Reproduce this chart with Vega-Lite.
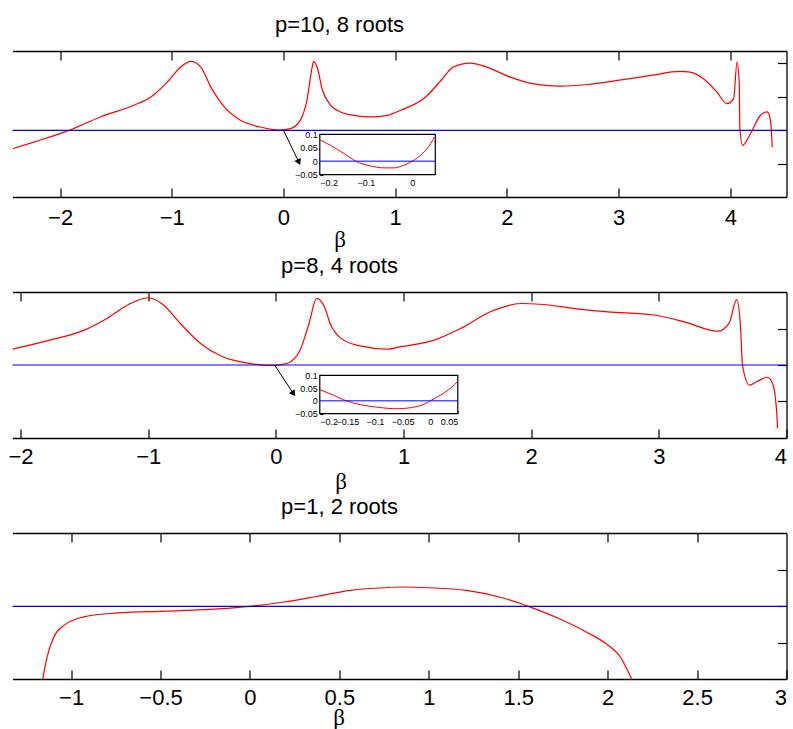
{
  "$schema": "https://vega.github.io/schema/vega-lite/v6.json",
  "background": "white",
  "padding": {"left": 7.5, "top": 14, "right": 5, "bottom": 5},
  "bounds": "flush",
  "spacing": 95,
  "config": {
    "view": {"stroke": null},
    "axis": {"grid": false, "minExtent": 0, "labelOverlap": false, "domainColor": "black", "domainWidth": 1.3, "tickColor": "black", "tickWidth": 1.2, "labelColor": "black", "labelFont": "Liberation Sans", "labelFontSize": 22, "titleColor": "black"},
    "title": {"font": "Liberation Sans", "fontSize": 22, "fontWeight": "normal", "color": "black"}
  },
  "datasets": {
    "p10": [
      {"b": -2.426, "v": -0.55}, {"b": -2.235, "v": -0.35}, {"b": -1.92, "v": 0.0}, {"b": -1.64, "v": 0.40},
      {"b": -1.34, "v": 0.75}, {"b": -1.19, "v": 0.99}, {"b": -1.04, "v": 1.44}, {"b": -0.92, "v": 1.89},
      {"b": -0.83, "v": 2.06}, {"b": -0.74, "v": 1.89}, {"b": -0.65, "v": 1.29}, {"b": -0.53, "v": 0.70},
      {"b": -0.385, "v": 0.30}, {"b": -0.21, "v": 0.10}, {"b": -0.03, "v": 0.01}, {"b": 0.06, "v": 0.05},
      {"b": 0.15, "v": 0.30}, {"b": 0.21, "v": 0.9}, {"b": 0.257, "v": 1.89}, {"b": 0.27, "v": 2.06},
      {"b": 0.30, "v": 1.89}, {"b": 0.35, "v": 1.19}, {"b": 0.41, "v": 0.80}, {"b": 0.51, "v": 0.55},
      {"b": 0.63, "v": 0.45}, {"b": 0.78, "v": 0.40}, {"b": 0.93, "v": 0.45}, {"b": 1.05, "v": 0.60},
      {"b": 1.27, "v": 0.99}, {"b": 1.41, "v": 1.49}, {"b": 1.52, "v": 1.89}, {"b": 1.67, "v": 2.01},
      {"b": 1.82, "v": 1.89}, {"b": 2.03, "v": 1.59}, {"b": 2.24, "v": 1.39}, {"b": 2.48, "v": 1.32},
      {"b": 2.72, "v": 1.37}, {"b": 2.99, "v": 1.49}, {"b": 3.29, "v": 1.64}, {"b": 3.55, "v": 1.76},
      {"b": 3.64, "v": 1.74}, {"b": 3.76, "v": 1.54}, {"b": 3.88, "v": 1.14}, {"b": 3.97, "v": 0.80},
      {"b": 4.03, "v": 0.95}, {"b": 4.06, "v": 2.04}, {"b": 4.08, "v": 1.39}, {"b": 4.085, "v": 0.10},
      {"b": 4.11, "v": -0.45}, {"b": 4.18, "v": -0.10}, {"b": 4.27, "v": 0.45}, {"b": 4.33, "v": 0.55},
      {"b": 4.36, "v": 0.30}, {"b": 4.375, "v": -0.50}
    ],
    "p8": [
      {"b": -2.063, "v": 0.44}, {"b": -1.77, "v": 0.69}, {"b": -1.50, "v": 0.97}, {"b": -1.32, "v": 1.30},
      {"b": -1.16, "v": 1.67}, {"b": -1.0, "v": 1.87}, {"b": -0.88, "v": 1.67}, {"b": -0.75, "v": 1.16},
      {"b": -0.59, "v": 0.60}, {"b": -0.43, "v": 0.25}, {"b": -0.22, "v": 0.05}, {"b": -0.02, "v": -0.01},
      {"b": 0.09, "v": 0.05}, {"b": 0.19, "v": 0.42}, {"b": 0.26, "v": 1.16}, {"b": 0.32, "v": 1.85},
      {"b": 0.38, "v": 1.62}, {"b": 0.43, "v": 1.11}, {"b": 0.51, "v": 0.74}, {"b": 0.66, "v": 0.53},
      {"b": 0.87, "v": 0.44}, {"b": 0.98, "v": 0.51}, {"b": 1.24, "v": 0.69}, {"b": 1.45, "v": 1.02},
      {"b": 1.68, "v": 1.48}, {"b": 1.92, "v": 1.71}, {"b": 2.07, "v": 1.69}, {"b": 2.34, "v": 1.57},
      {"b": 2.60, "v": 1.48}, {"b": 2.96, "v": 1.39}, {"b": 3.20, "v": 1.20}, {"b": 3.46, "v": 0.94},
      {"b": 3.55, "v": 1.16}, {"b": 3.61, "v": 1.82}, {"b": 3.64, "v": 1.06}, {"b": 3.655, "v": 0.0},
      {"b": 3.71, "v": -0.56}, {"b": 3.77, "v": -0.46}, {"b": 3.85, "v": -0.34}, {"b": 3.89, "v": -0.51},
      {"b": 3.92, "v": -1.16}, {"b": 3.93, "v": -1.76}
    ],
    "p1": [
      {"b": -1.159, "v": -1.99}, {"b": -1.134, "v": -1.38}, {"b": -1.097, "v": -0.84}, {"b": -1.04, "v": -0.52},
      {"b": -0.93, "v": -0.29}, {"b": -0.74, "v": -0.18}, {"b": -0.46, "v": -0.13}, {"b": -0.18, "v": -0.07},
      {"b": 0.0, "v": 0.0}, {"b": 0.19, "v": 0.12}, {"b": 0.37, "v": 0.27}, {"b": 0.56, "v": 0.44},
      {"b": 0.75, "v": 0.51}, {"b": 0.84, "v": 0.53}, {"b": 1.0, "v": 0.51}, {"b": 1.21, "v": 0.44},
      {"b": 1.40, "v": 0.25}, {"b": 1.556, "v": 0.0}, {"b": 1.73, "v": -0.34}, {"b": 1.88, "v": -0.70},
      {"b": 1.99, "v": -1.02}, {"b": 2.07, "v": -1.38}, {"b": 2.134, "v": -1.99}
    ],
    "in10": [
      {"b": -0.2, "v": 0.080}, {"b": -0.177, "v": 0.059}, {"b": -0.147, "v": 0.028}, {"b": -0.122, "v": 0.0},
      {"b": -0.090, "v": -0.018}, {"b": -0.061, "v": -0.025}, {"b": -0.040, "v": -0.025}, {"b": -0.018, "v": -0.015},
      {"b": 0.0, "v": 0.0}, {"b": 0.022, "v": 0.028}, {"b": 0.040, "v": 0.065}, {"b": 0.048, "v": 0.090}
    ],
    "in8": [
      {"b": -0.2, "v": 0.044}, {"b": -0.175, "v": 0.022}, {"b": -0.152, "v": 0.0}, {"b": -0.126, "v": -0.015},
      {"b": -0.096, "v": -0.025}, {"b": -0.060, "v": -0.031}, {"b": -0.036, "v": -0.027}, {"b": -0.013, "v": -0.015},
      {"b": 0.0, "v": 0.0}, {"b": 0.023, "v": 0.028}, {"b": 0.038, "v": 0.052}, {"b": 0.05, "v": 0.076}
    ],
    "a10": [{"b": 0.0, "v": 0.0, "b2": 0.138, "v2": -0.951}],
    "a8": [{"b": -0.01, "v": 0.0, "b2": 0.138, "v2": -0.80}],
    "zero": [{"v": 0}],
    "box": [{"b": -0.2, "b2": 0.05, "v": -0.05, "v2": 0.1}],
    "izero": [{"b": -0.2, "b2": 0.05, "v": 0}]
  },
  "vconcat": [
    {
      "width": 774, "height": 146,
      "title": {"text": "p=10, 8 roots", "frame": "group", "anchor": "middle", "dx": -60, "offset": -4, "baseline": "alphabetic"},
      "layer": [
        {"layer": [
          {"data": {"name": "p10"}, "mark": {"type": "line", "color": "#ff0000", "strokeWidth": 1.2, "interpolate": "monotone", "clip": true},
           "encoding": {
             "x": {"field": "b", "type": "quantitative", "scale": {"domain": [-2.426, 4.503], "nice": false, "zero": false},
                   "axis": {"orient": "bottom", "values": [-2, -1, 0, 1, 2, 3, 4], "format": "~g", "tickSize": -9, "labelPadding": 19, "title": "β", "titleX": 327, "titleY": 42.5, "titleBaseline": "middle", "titleFont": "Liberation Serif", "titleFontSize": 23, "titleFontWeight": "normal"}},
             "y": {"field": "v", "type": "quantitative", "scale": {"domain": [-1.99, 2.37], "nice": false, "zero": false},
                   "axis": {"orient": "right", "values": [-1, 0, 1, 2], "labels": false, "tickSize": -9, "title": null}}
           }},
          {"data": {"name": "zero"}, "mark": {"type": "rule", "color": "#0000ff", "strokeWidth": 1.2}, "encoding": {"y": {"field": "v", "type": "quantitative"}}},
          {"data": {"name": "a10"}, "mark": {"type": "rule", "color": "black", "strokeWidth": 1},
           "encoding": {"x": {"field": "b", "type": "quantitative"}, "y": {"field": "v", "type": "quantitative"}, "x2": {"field": "b2"}, "y2": {"field": "v2"}}},
          {"data": {"name": "a10"}, "mark": {"type": "point", "shape": "triangle-up", "filled": true, "color": "black", "opacity": 1, "size": 50, "angle": 154},
           "encoding": {"x": {"field": "b2", "type": "quantitative"}, "y": {"field": "v2", "type": "quantitative"}}}
        ]},
        {"data": {"values": [{"b": 0}]}, "mark": {"type": "point", "opacity": 0},
         "encoding": {"x": {"field": "b", "type": "quantitative", "scale": {"domain": [-2.426, 4.503], "nice": false, "zero": false},
                            "axis": {"orient": "top", "values": [-2, -1, 0, 1, 2, 3, 4], "labels": false, "tickSize": -9, "title": null}}}},
        {"layer": [
          {"data": {"name": "box"}, "mark": {"type": "rect", "fill": "white", "stroke": "black", "strokeWidth": 1.2},
           "encoding": {"x": {"field": "b", "type": "quantitative"}, "x2": {"field": "b2"}, "y": {"field": "v", "type": "quantitative"}, "y2": {"field": "v2"}}},
          {"data": {"name": "in10"}, "mark": {"type": "line", "color": "#ff0000", "strokeWidth": 1, "interpolate": "monotone"},
           "encoding": {
             "x": {"field": "b", "type": "quantitative", "scale": {"domain": [-0.2, 0.05], "range": [307.3, 422.8], "nice": false, "zero": false},
                   "axis": {"orient": "bottom", "offset": -22.4, "values": [-0.2, -0.1, 0], "format": "~g", "domain": false, "tickSize": -3, "labelFontSize": 9, "labelPadding": 7, "title": null}},
             "y": {"field": "v", "type": "quantitative", "scale": {"domain": [-0.05, 0.1], "range": [123.6, 83.3], "nice": false, "zero": false},
                   "axis": {"orient": "left", "offset": -307.3, "values": [-0.05, 0, 0.05, 0.1], "format": "~g", "domain": false, "tickSize": -3, "labelFontSize": 9, "labelPadding": 5.6, "title": null}}
           }},
          {"data": {"name": "izero"}, "mark": {"type": "rule", "color": "#0000ff", "strokeWidth": 1},
           "encoding": {"x": {"field": "b", "type": "quantitative"}, "x2": {"field": "b2"}, "y": {"field": "v", "type": "quantitative"}}}
        ]}
      ],
      "resolve": {"scale": {"x": "independent", "y": "independent"}}
    },
    {
      "width": 774, "height": 146,
      "title": {"text": "p=8, 4 roots", "frame": "group", "anchor": "middle", "dx": -60, "offset": -4, "baseline": "alphabetic"},
      "layer": [
        {"layer": [
          {"data": {"name": "p8"}, "mark": {"type": "line", "color": "#ff0000", "strokeWidth": 1.2, "interpolate": "monotone", "clip": true},
           "encoding": {
             "x": {"field": "b", "type": "quantitative", "scale": {"domain": [-2.063, 4], "nice": false, "zero": false},
                   "axis": {"orient": "bottom", "values": [-2, -1, 0, 1, 2, 3, 4], "format": "~g", "tickSize": -9, "labelPadding": 17.6, "title": "β", "titleX": 328, "titleY": 43, "titleBaseline": "middle", "titleFont": "Liberation Serif", "titleFontSize": 23, "titleFontWeight": "normal"}},
             "y": {"field": "v", "type": "quantitative", "scale": {"domain": [-2.03, 2.03], "nice": false, "zero": false},
                   "axis": {"orient": "right", "values": [-1, 0, 1], "labels": false, "tickSize": -9, "title": null}}
           }},
          {"data": {"name": "zero"}, "mark": {"type": "rule", "color": "#0000ff", "strokeWidth": 1.2}, "encoding": {"y": {"field": "v", "type": "quantitative"}}},
          {"data": {"name": "a8"}, "mark": {"type": "rule", "color": "black", "strokeWidth": 1},
           "encoding": {"x": {"field": "b", "type": "quantitative"}, "y": {"field": "v", "type": "quantitative"}, "x2": {"field": "b2"}, "y2": {"field": "v2"}}},
          {"data": {"name": "a8"}, "mark": {"type": "point", "shape": "triangle-up", "filled": true, "color": "black", "opacity": 1, "size": 50, "angle": 144},
           "encoding": {"x": {"field": "b2", "type": "quantitative"}, "y": {"field": "v2", "type": "quantitative"}}}
        ]},
        {"data": {"values": [{"b": 0}]}, "mark": {"type": "point", "opacity": 0},
         "encoding": {"x": {"field": "b", "type": "quantitative", "scale": {"domain": [-2.063, 4], "nice": false, "zero": false},
                            "axis": {"orient": "top", "values": [-2, -1, 0, 1, 2, 3], "labels": false, "tickSize": -9, "title": null}}}},
        {"layer": [
          {"data": {"name": "box"}, "mark": {"type": "rect", "fill": "white", "stroke": "black", "strokeWidth": 1.2},
           "encoding": {"x": {"field": "b", "type": "quantitative"}, "x2": {"field": "b2"}, "y": {"field": "v", "type": "quantitative"}, "y2": {"field": "v2"}}},
          {"data": {"name": "in8"}, "mark": {"type": "line", "color": "#ff0000", "strokeWidth": 1, "interpolate": "monotone"},
           "encoding": {
             "x": {"field": "b", "type": "quantitative", "scale": {"domain": [-0.2, 0.05], "range": [307.3, 445.3], "nice": false, "zero": false},
                   "axis": {"orient": "bottom", "offset": -24.4, "values": [-0.2, -0.15, -0.1, -0.05, 0, 0.05], "format": "~g", "domain": false, "tickSize": -3, "labelFontSize": 9, "labelPadding": 7, "title": null}},
             "y": {"field": "v", "type": "quantitative", "scale": {"domain": [-0.05, 0.1], "range": [121.6, 83.3], "nice": false, "zero": false},
                   "axis": {"orient": "left", "offset": -307.3, "values": [-0.05, 0, 0.05, 0.1], "format": "~g", "domain": false, "tickSize": -3, "labelFontSize": 9, "labelPadding": 5.6, "title": null}}
           }},
          {"data": {"name": "izero"}, "mark": {"type": "rule", "color": "#0000ff", "strokeWidth": 1},
           "encoding": {"x": {"field": "b", "type": "quantitative"}, "x2": {"field": "b2"}, "y": {"field": "v", "type": "quantitative"}}}
        ]}
      ],
      "resolve": {"scale": {"x": "independent", "y": "independent"}}
    },
    {
      "width": 774, "height": 146,
      "title": {"text": "p=1, 2 roots", "frame": "group", "anchor": "middle", "dx": -60, "offset": -4, "baseline": "alphabetic"},
      "layer": [
        {"layer": [
          {"data": {"name": "p1"}, "mark": {"type": "line", "color": "#ff0000", "strokeWidth": 1.2, "interpolate": "monotone", "clip": true},
           "encoding": {
             "x": {"field": "b", "type": "quantitative", "scale": {"domain": [-1.328, 3], "nice": false, "zero": false},
                   "axis": {"orient": "bottom", "values": [-1, -0.5, 0, 0.5, 1, 1.5, 2, 2.5, 3], "format": "~g", "tickSize": -9, "labelPadding": 17.2, "title": "β", "titleX": 326, "titleY": 38.5, "titleBaseline": "middle", "titleFont": "Liberation Serif", "titleFontSize": 23, "titleFontWeight": "normal"}},
             "y": {"field": "v", "type": "quantitative", "scale": {"domain": [-1.99, 2.01], "nice": false, "zero": false},
                   "axis": {"orient": "right", "values": [-1, 0, 1], "labels": false, "tickSize": -9, "title": null}}
           }},
          {"data": {"name": "zero"}, "mark": {"type": "rule", "color": "#0000ff", "strokeWidth": 1.2}, "encoding": {"y": {"field": "v", "type": "quantitative"}}}
        ]},
        {"data": {"values": [{"b": 0}]}, "mark": {"type": "point", "opacity": 0},
         "encoding": {"x": {"field": "b", "type": "quantitative", "scale": {"domain": [-1.328, 3], "nice": false, "zero": false},
                            "axis": {"orient": "top", "values": [-1, -0.5, 0, 0.5, 1, 1.5, 2, 2.5], "labels": false, "tickSize": -9, "title": null}}}}
      ],
      "resolve": {"scale": {"x": "independent", "y": "independent"}}
    }
  ]
}
